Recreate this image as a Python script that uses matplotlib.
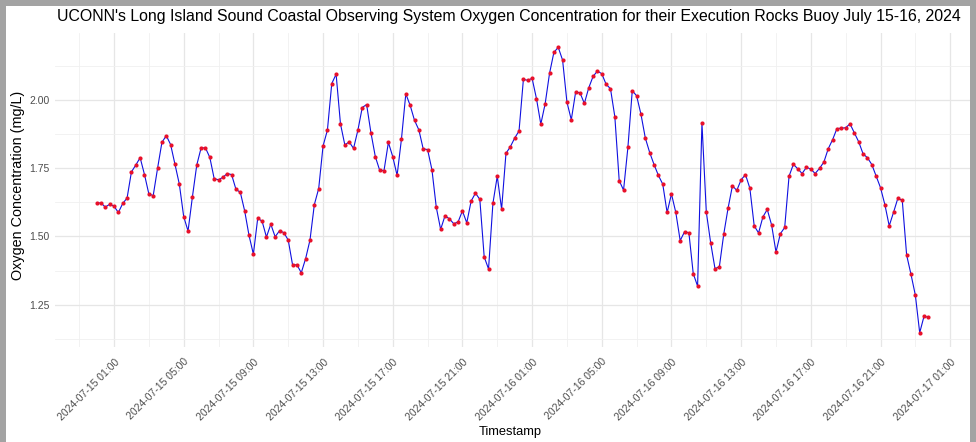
import pandas as pd
import matplotlib.pyplot as plt
import matplotlib.dates as mdates
from matplotlib.patches import Rectangle

plt.rcParams["font.family"] = ["Liberation Sans", "DejaVu Sans"]

# 15-minute readings from the Execution Rocks buoy
start_time = "2024-07-15 00:00"
interval = "15min"
oxygen_mg_l = [
    1.623, 1.623, 1.608, 1.618, 1.611, 1.588, 1.621, 1.641, 1.737, 1.762,
    1.789, 1.727, 1.656, 1.650, 1.750, 1.845, 1.870, 1.837, 1.765, 1.692,
    1.573, 1.520, 1.645, 1.762, 1.825, 1.825, 1.790, 1.712, 1.708, 1.717,
    1.731, 1.727, 1.673, 1.662, 1.594, 1.504, 1.435, 1.567, 1.556, 1.498,
    1.545, 1.499, 1.521, 1.514, 1.487, 1.396, 1.396, 1.367, 1.419, 1.487,
    1.617, 1.676, 1.832, 1.890, 2.061, 2.095, 1.913, 1.836, 1.847, 1.823,
    1.890, 1.973, 1.984, 1.880, 1.793, 1.743, 1.742, 1.845, 1.793, 1.724,
    1.857, 2.023, 1.981, 1.926, 1.891, 1.821, 1.819, 1.745, 1.607, 1.526,
    1.576, 1.565, 1.547, 1.553, 1.594, 1.550, 1.630, 1.659, 1.636, 1.425,
    1.381, 1.621, 1.721, 1.600, 1.805, 1.829, 1.861, 1.887, 2.076, 2.073,
    2.080, 2.006, 1.912, 1.987, 2.098, 2.175, 2.194, 2.147, 1.993, 1.928,
    2.030, 2.027, 1.988, 2.045, 2.087, 2.107, 2.097, 2.058, 2.042, 1.939,
    1.705, 1.670, 1.827, 2.035, 2.016, 1.948, 1.861, 1.808, 1.764, 1.724,
    1.692, 1.588, 1.656, 1.588, 1.485, 1.517, 1.514, 1.364, 1.318, 1.916,
    1.590, 1.477, 1.382, 1.389, 1.508, 1.604, 1.686, 1.669, 1.708, 1.727,
    1.677, 1.539, 1.513, 1.572, 1.599, 1.542, 1.443, 1.510, 1.533, 1.721,
    1.765, 1.748, 1.731, 1.754, 1.747, 1.731, 1.750, 1.773, 1.822, 1.855,
    1.896, 1.897, 1.899, 1.913, 1.880, 1.847, 1.803, 1.789, 1.764, 1.721,
    1.679, 1.617, 1.539, 1.589, 1.641, 1.632, 1.432, 1.361, 1.285, 1.147,
    1.208, 1.203,
]
y_ticks = [1.25, 1.50, 1.75, 2.00]
y_minor = [1.125, 1.375, 1.625, 1.875, 2.125]

df = pd.DataFrame({
    "Timestamp": pd.date_range(start_time, periods=len(oxygen_mg_l), freq=interval),
    "Oxygen": oxygen_mg_l,
})

W, H = 976, 442
fig = plt.figure(figsize=(W / 100, H / 100), dpi=100)
fig.patch.set_facecolor("#a3a3a3")
# white canvas inside the grey frame
fig.patches.append(Rectangle((6 / W, 0), (970 - 6) / W, 1 - 6 / H,
                             transform=fig.transFigure, facecolor="white",
                             edgecolor="none", zorder=-10))

ax = fig.add_axes([55 / W, 1 - 347 / H, (970 - 55) / W, (347 - 33) / H])
ax.set_zorder(1)
ax.set_facecolor("white")

ax.plot(df["Timestamp"], df["Oxygen"], color="#1010e0", linewidth=0.8, zorder=3)
ax.plot(df["Timestamp"], df["Oxygen"], "o", color="#e8102a", markersize=3.0,
        markeredgewidth=0, zorder=4)

# ggplot-style 5% expansion on both axes
t0, t1 = df["Timestamp"].min(), df["Timestamp"].max()
pad_t = (t1 - t0) * 0.05
ax.set_xlim(t0 - pad_t, t1 + pad_t)
lo, hi = df["Oxygen"].min(), df["Oxygen"].max()
pad_y = (hi - lo) * 0.05
ax.set_ylim(lo - pad_y, hi + pad_y)

ax.xaxis.set_major_locator(mdates.HourLocator(byhour=[1, 5, 9, 13, 17, 21]))
ax.xaxis.set_minor_locator(mdates.HourLocator(byhour=[3, 7, 11, 15, 19, 23]))
ax.xaxis.set_major_formatter(mdates.DateFormatter("%Y-%m-%d %H:%M"))
ax.set_yticks(y_ticks)
ax.set_yticklabels([f"{v:.2f}" for v in y_ticks])
ax.set_yticks(y_minor, minor=True)

ax.grid(which="major", color="#e6e6e6", linewidth=0.9)
ax.grid(which="minor", color="#f0f0f0", linewidth=0.6)
ax.set_axisbelow(True)
for s in ax.spines.values():
    s.set_visible(False)

ax.tick_params(which="both", length=0)
ax.tick_params(axis="y", labelsize=7.5, labelcolor="#4d4d4d", pad=4)
ax.tick_params(axis="x", labelsize=7.5, labelcolor="#4d4d4d", pad=7)
for lab in ax.get_xticklabels():
    lab.set_rotation(45)
    lab.set_rotation_mode("anchor")
    lab.set_ha("right")
    lab.set_va("top")

fig.text(57 / W, 1 - 17 / H,
         "UCONN's Long Island Sound Coastal Observing System Oxygen Concentration "
         "for their Execution Rocks Buoy July 15-16, 2024",
         ha="left", va="center", fontsize=11.4, color="black")
fig.text(18 / W, 1 - 185 / H, "Oxygen Concentration (mg/L)", rotation=90,
         ha="center", va="center", fontsize=10.4, color="black")
fig.text(510 / W, 1 - 432 / H, "Timestamp", ha="center", va="center",
         fontsize=9.3, color="black")

fig.savefig("out.png", dpi=100, facecolor=fig.get_facecolor())
